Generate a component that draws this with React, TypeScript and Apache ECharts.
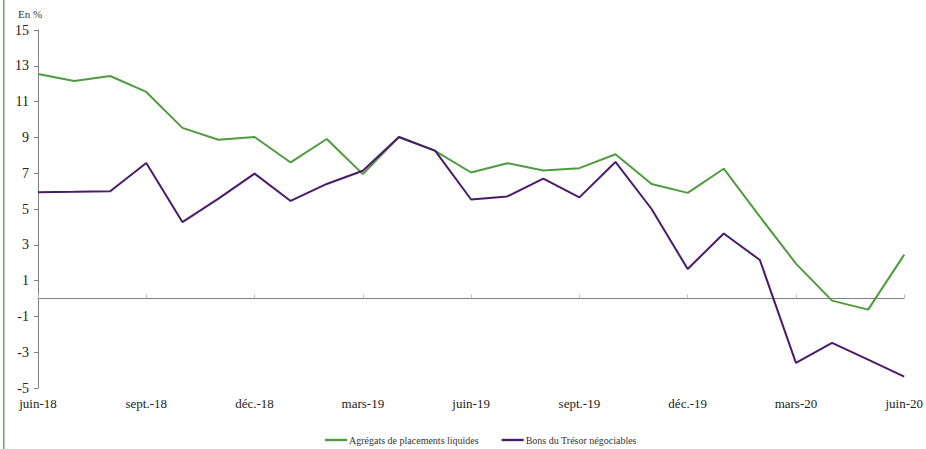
import React, { useEffect, useRef } from "react";
import * as echarts from "echarts";

const categories = [
  "juin-18", "juil.-18", "août-18", "sept.-18", "oct.-18", "nov.-18", "déc.-18",
  "janv.-19", "févr.-19", "mars-19", "avr.-19", "mai-19", "juin-19", "juil.-19",
  "août-19", "sept.-19", "oct.-19", "nov.-19", "déc.-19", "janv.-20", "févr.-20",
  "mars-20", "avr.-20", "mai-20", "juin-20",
];

const agregats = [
  12.54, 12.15, 12.43, 11.54, 9.53, 8.87, 9.02, 7.6, 8.91, 6.95, 9.02, 8.25, 7.04,
  7.56, 7.15, 7.28, 8.06, 6.4, 5.9, 7.25, 4.57, 1.95, -0.12, -0.62, 2.45,
];

const bons = [
  5.94, 5.96, 5.99, 7.57, 4.27, 5.58, 6.98, 5.45, 6.4, 7.14, 9.02, 8.26, 5.53,
  5.7, 6.7, 5.65, 7.63, 5.0, 1.65, 3.63, 2.15, -3.6, -2.48, -3.42, -4.36,
];

const seriesNames = ["Agrégats de placements liquides", "Bons du Trésor négociables"];

const FONT = "serif";

export default function App() {
  const ref = useRef<HTMLDivElement>(null);

  useEffect(() => {
    document.body.style.margin = "0";
    if (!ref.current) return;
    const chart = echarts.init(ref.current, null, { renderer: "svg" });
    chart.setOption({
      animation: false,
      backgroundColor: "#ffffff",
      textStyle: { fontFamily: FONT },
      grid: { left: 38, right: 19, top: 30, bottom: 61, containLabel: false },
      graphic: [
        {
          type: "rect",
          left: 3,
          top: 0,
          shape: { width: 1.5, height: 449 },
          style: { fill: "#6aaa4e" },
        },
        {
          type: "text",
          left: 18,
          top: 8,
          style: { text: "En %", fontFamily: FONT, fontSize: 11, fill: "#333" },
        },
      ],
      legend: {
        left: 320,
        top: 430,
        itemWidth: 22,
        itemHeight: 10,
        itemGap: 23,
        icon: "path://M0,3.8 L22,3.8 L22,6.2 L0,6.2 Z",
        textStyle: { fontFamily: FONT, fontSize: 10, color: "#333", padding: [0, 0, 0, -3] },
        data: seriesNames,
      },
      xAxis: [
        {
          type: "category",
          data: categories,
          boundaryGap: false,
          axisLine: { onZero: true, lineStyle: { color: "#7f7f7f", width: 1 } },
          axisTick: { show: true, inside: true, length: 4, interval: 2, lineStyle: { color: "#bfbfbf" } },
          axisLabel: { show: false },
          splitLine: { show: false },
        },
        {
          type: "category",
          data: categories,
          boundaryGap: false,
          position: "bottom",
          axisLine: { show: false, onZero: false },
          axisTick: { show: false },
          axisLabel: {
            interval: 2,
            margin: 9,
            fontFamily: FONT,
            fontSize: 13,
            color: "#222",
          },
          splitLine: { show: false },
        },
      ],
      yAxis: {
        type: "value",
        min: -5,
        max: 15,
        interval: 2,
        axisLine: { show: true, lineStyle: { color: "#7f7f7f", width: 1 } },
        axisTick: { show: true, length: 4, lineStyle: { color: "#7f7f7f" } },
        axisLabel: { fontFamily: FONT, fontSize: 14, color: "#222", margin: 9 },
        splitLine: { show: false },
      },
      series: [
        {
          name: seriesNames[0],
          type: "line",
          xAxisIndex: 0,
          data: agregats,
          symbol: "none",
          lineStyle: { color: "#4f9b3e", width: 2 },
          itemStyle: { color: "#4f9b3e" },
        },
        {
          name: seriesNames[1],
          type: "line",
          xAxisIndex: 0,
          data: bons,
          symbol: "none",
          lineStyle: { color: "#4a1a6b", width: 2 },
          itemStyle: { color: "#4a1a6b" },
        },
      ],
    });
    return () => chart.dispose();
  }, []);

  return <div ref={ref} style={{ width: 926, height: 449 }} />;
}
